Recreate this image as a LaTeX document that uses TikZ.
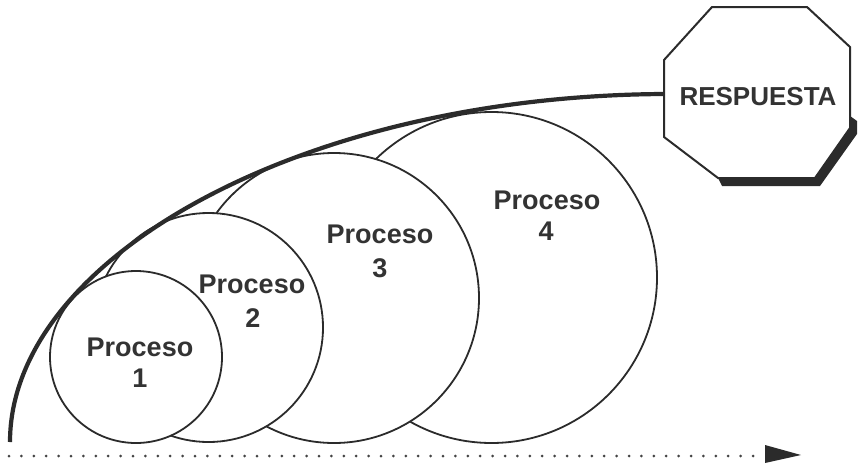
\documentclass[tikz,border=0pt]{standalone}
\usepackage{fontspec}
\setmainfont{Liberation Sans}
\usetikzlibrary{arrows.meta}
\definecolor{ink}{HTML}{2B2B2B}
\definecolor{txt}{HTML}{333333}
\definecolor{dotc}{HTML}{444444}
\tikzset{
  proc/.style={circle, draw=ink, line width=1.8pt, fill=white, inner sep=0pt},
  ptext/.style={inner sep=0pt, text=txt, font=\bfseries\fontsize{27}{30}\selectfont},
  curveline/.style={draw=ink, line width=4.2pt},
  octline/.style={draw=ink, line width=2pt, fill=white, line join=miter},
  dotline/.style={draw=dotc, line width=3pt, line cap=round, dash pattern=on 0pt off 12.4pt}
}
\begin{document}
\begin{tikzpicture}[x=1pt,y=-1pt]
\useasboundingbox (0,0) rectangle (858,463);
% circles, back to front
\node[proc, minimum size=331pt] (p4) at (491.5,277.5) {};
\node[proc, minimum size=290pt] (p3) at (334,298) {};
\node[proc, minimum size=229pt] (p2) at (208.5,327.5) {};
\node[proc, minimum size=172pt] (p1) at (136,357) {};
% texts
\node[ptext] (t1a) at (140,347) {Proceso};
\node[ptext] (t1b) at (140,378) {1};
\node[ptext] (t2a) at (252,284) {Proceso};
\node[ptext] (t2b) at (253,318) {2};
\node[ptext] (t3a) at (380,234) {Proceso};
\node[ptext] (t3b) at (380,268) {3};
\node[ptext] (t4a) at (547,200) {Proceso};
\node[ptext] (t4b) at (546,231) {4};
% octagon with shadow
\fill[ink] (850,116) -- (857,121) -- (857,134) -- (820,186) -- (722,186) -- (718,178) -- (815,178) -- (850,128) -- cycle;
\path[octline] (712,7) -- (807,7) -- (850,47) -- (850,128) -- (815,178) -- (718,178) -- (664,137) -- (664,60) -- cycle;
\node[ptext, font=\bfseries\fontsize{26}{30}\selectfont] (resp) at (758,97) {RESPUESTA};
% curve
\coordinate (cstart) at (10,442);
\coordinate (octW) at (664,94);
\draw[curveline] (cstart) .. controls (10,259) and (300,96) .. (octW);
% dotted arrow
\coordinate (dstart) at (9,456);
\coordinate (dend) at (801,455);
\draw[dotline] (dstart) -- (762,456);
\fill[ink] (765,445) -- (dend) -- (765,463) -- cycle;
\end{tikzpicture}
\end{document}
